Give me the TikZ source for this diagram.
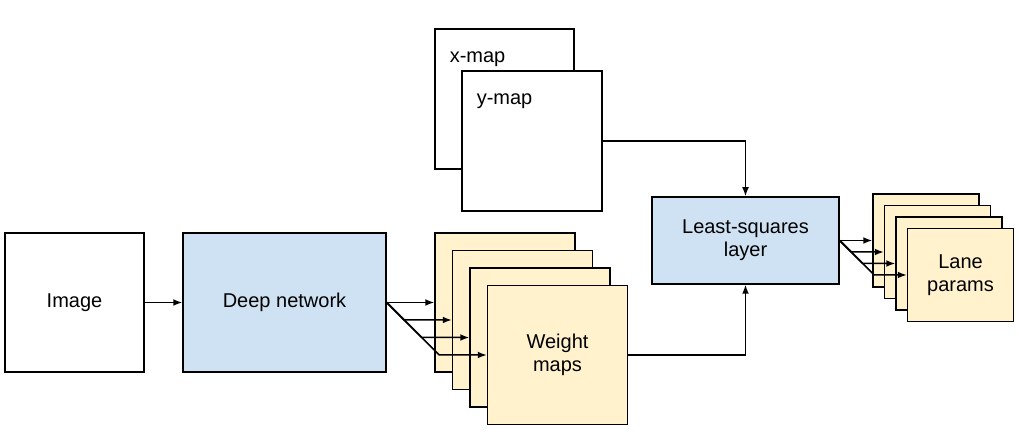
\documentclass[tikz,border=0pt]{standalone}
\usepackage{fontspec}
\setmainfont{Liberation Sans}
\usepackage{tikz}
\usetikzlibrary{arrows.meta}
\definecolor{netblue}{HTML}{CFE2F3}
\definecolor{mapyellow}{HTML}{FFF2CC}

\begin{document}
\begin{tikzpicture}[x=0.5pt,y=-0.5pt,font=\fontsize{10}{11.5}\selectfont,line width=0.75pt,
box/.style n args={3}{draw,fill=#1,minimum width=#2*0.5pt,minimum height=#3*0.5pt,inner sep=0pt,align=center},
arr/.style={-{Latex[length=4.5pt,width=3.4pt]}},
lbl/.style={anchor=base west,inner sep=0pt}]
\useasboundingbox (0,0) rectangle (1019,443);
% input and network
\node[box={white}{139}{139}] (img) at (74.5,302.5) {Image};
\node[box={netblue}{203}{139}] (dn) at (284.5,302.5) {Deep network};
% coordinate maps
\node[box={white}{139}{140}] (xm) at (504.5,99) {};
\node[lbl] (xl) at (449,63) {x-map};
\node[box={white}{140}{140}] (ym) at (532,141) {};
\node[lbl] (yl) at (476,105) {y-map};
% stack of weight maps
\foreach \i in {1,...,4} {
   \node[box={mapyellow}{140}{139}] (wm\i) at (505+\i*17.5-17.5,302.5+\i*17.5-17.5) {};
}
\node[align=center] (wt) at (wm4) {Weight\\maps};
\node[box={netblue}{187}{87}] (ls) at (745.5,240.5) {Least-squares\\layer};
% stack of lane params
\foreach \i in {1,...,4} {
   \node[box={mapyellow}{106}{93}] (lp\i) at (926+\i*11.5-11.5,240.5+\i*11.5-11.5) {};
}
\node[align=center] (lt) at (lp4) {Lane\\params};
% connectors
\draw[arr] (img) -- (dn);
\draw[arr] (dn.east) -- (wm1.west);
\foreach \i/\d in {2/17.5,3/35,4/52.5} {
   \draw[arr] (dn.east) -- ++(\d,\d) -- (wm\i.west);
}
\draw[arr] (ls.east) -- (lp1.west);
\foreach \i/\d in {2/11.5,3/23,4/34.5} {
   \draw[arr] (ls.east) -- ++(\d,\d) -- (lp\i.west);
}
\draw[arr] (ym.east) -| (ls.north);
\draw[arr] (wm4.east) -| (ls.south);
\end{tikzpicture}
\end{document}
